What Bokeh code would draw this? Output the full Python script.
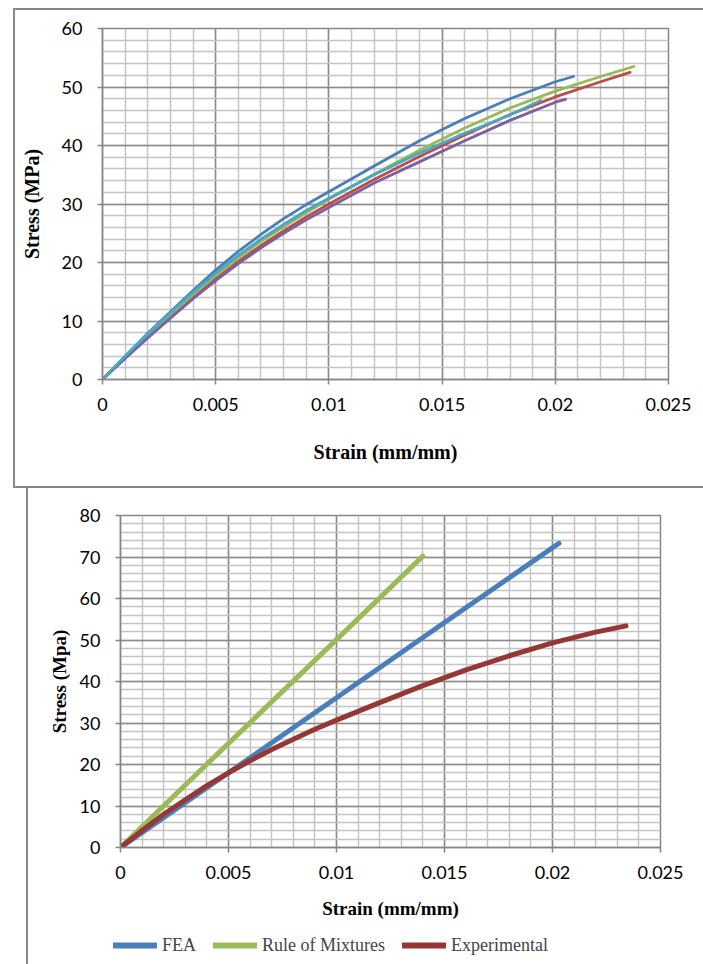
from bokeh.plotting import figure
from bokeh.models import (SingleIntervalTicker, NumeralTickFormatter, Legend, Range1d)
from bokeh.embed import file_html
from bokeh.resources import INLINE

# ---------------- data: top chart (five specimens) ----------------
grid_a = [0, 0.001, 0.002, 0.003, 0.004, 0.005, 0.006, 0.007, 0.008, 0.009, 0.010,
          0.012, 0.014, 0.016, 0.018, 0.020]

s1_strain = grid_a + [0.0208]
s1_stress = [0, 4.0, 7.9, 11.6, 15.2, 18.7, 21.9, 24.8, 27.5, 29.9, 32.1,
             36.5, 40.8, 44.6, 48.0, 50.9, 51.8]

s2_strain = grid_a + [0.022, 0.0233]
s2_stress = [0, 3.7, 7.3, 10.8, 14.1, 17.2, 20.2, 22.9, 25.4, 27.8, 30.0,
             34.2, 38.1, 41.8, 45.3, 48.3, 50.9, 52.5]

s3_strain = grid_a + [0.022, 0.02347]
s3_stress = [0, 3.9, 7.6, 11.1, 14.5, 17.8, 20.8, 23.6, 26.1, 28.5, 30.8,
             35.1, 39.2, 43.0, 46.4, 49.3, 51.8, 53.5]

s4_strain = grid_a + [0.02045]
s4_stress = [0, 3.6, 7.1, 10.5, 13.8, 16.9, 19.8, 22.5, 25.0, 27.3, 29.4,
             33.6, 37.2, 40.8, 44.3, 47.4, 47.9]

s5_strain = grid_a[:-1] + [0.01935]
s5_stress = [0, 4.0, 7.8, 11.4, 14.9, 18.2, 21.2, 24.0, 26.5, 28.9, 31.0,
             35.0, 38.7, 42.1, 45.2, 47.7]

top_colors = ["#4A7EBB", "#BE4B48", "#98B954", "#7D60A0", "#46AAC5"]

# ---------------- data: bottom chart ----------------
fea_strain = [0, 0.005, 0.01, 0.015, 0.0203]
fea_stress = [0, 18.0, 36.1, 54.2, 73.3]

rom_strain = [0, 0.005, 0.01, 0.014]
rom_stress = [0, 25.1, 50.1, 70.2]

exp_strain = [0, 0.001, 0.002, 0.003, 0.004, 0.005, 0.006, 0.007, 0.008, 0.009, 0.010,
              0.012, 0.014, 0.016, 0.018, 0.020, 0.022, 0.0234]
exp_stress = [0, 4.1, 8.0, 11.5, 14.9, 18.0, 20.9, 23.6, 26.1, 28.5, 30.7,
              34.9, 39.0, 42.8, 46.2, 49.3, 51.9, 53.4]

legend_labels = ["FEA", "Rule of Mixtures", "Experimental"]
bottom_colors = ["#4A7EBB", "#9BBB59", "#953735"]

TICK_FONT = "Lato"
LABEL_FONT = "Liberation Serif"
MAJOR_GRID = "#8A8A8A"
MINOR_GRID = "#C4C4C4"
AXIS_COL = "#868686"
BOX = "#888888"


def style(p, ylabel, xstand, ystand, xlab_stand, ylab_stand, xlab_size, ylab_size, yint):
    p.xaxis.ticker = SingleIntervalTicker(interval=0.005, num_minor_ticks=5)
    p.yaxis.ticker = SingleIntervalTicker(interval=yint, num_minor_ticks=5)
    p.xaxis.formatter = NumeralTickFormatter(format="0.[000]")
    p.xgrid.ticker = p.xaxis.ticker
    p.ygrid.ticker = p.yaxis.ticker
    for g in (p.xgrid, p.ygrid):
        g.grid_line_color = MAJOR_GRID
        g.grid_line_width = 1.5
        g.minor_grid_line_color = MINOR_GRID
        g.minor_grid_line_width = 1.5
    for ax in (p.xaxis, p.yaxis):
        ax.axis_line_color = AXIS_COL
        ax.axis_line_width = 1.5
        ax.major_tick_line_color = AXIS_COL
        ax.major_tick_line_width = 1.5
        ax.major_tick_out = 5
        ax.major_tick_in = 0
        ax.minor_tick_line_color = None
        ax.major_label_text_font = TICK_FONT
        ax.major_label_text_font_size = "18px"
        ax.major_label_text_color = "#000000"
        ax.axis_label_text_font = LABEL_FONT
        ax.axis_label_text_font_style = "bold"
        ax.axis_label_text_color = "#000000"
    p.xaxis.axis_label = "Strain (mm/mm)"
    p.yaxis.axis_label = ylabel
    p.xaxis.major_label_standoff = xstand
    p.yaxis.major_label_standoff = ystand
    p.xaxis.axis_label_standoff = xlab_stand
    p.yaxis.axis_label_standoff = ylab_stand
    p.xaxis.axis_label_text_font_size = xlab_size
    p.yaxis.axis_label_text_font_size = ylab_size
    p.outline_line_color = AXIS_COL
    p.outline_line_width = 1.5
    p.background_fill_color = "white"
    p.border_fill_alpha = 0


# ---------------- top figure (boxed via inset shadows) ----------------
top_box = (f"inset 13px 0 0 0 white, inset 0 8px 0 0 white, "
           f"inset 15px 0 0 0 {BOX}, inset 0 10px 0 0 {BOX}, inset 0 -2px 0 0 {BOX}")
p1 = figure(width=703, height=488, x_range=Range1d(0, 0.025), y_range=Range1d(0, 60),
            output_backend="svg", toolbar_location=None,
            min_border_left=102, min_border_right=35, min_border_top=28, min_border_bottom=109,
            styles={"box-shadow": top_box, "background-color": "white"})
style(p1, "Stress (MPa)", 13, 15, 27, 16, "20px", "20px", 10)

series_top = [(s1_strain, s1_stress), (s2_strain, s2_stress), (s3_strain, s3_stress),
              (s4_strain, s4_stress), (s5_strain, s5_stress)]
for (xs, ys), c in zip(series_top, top_colors):
    p1.line(xs, ys, line_color=c, line_width=2.8, line_join="round", line_cap="round")

# ---------------- bottom figure ----------------
bottom_box = f"inset 26px 0 0 0 white, inset 28px 0 0 0 {BOX}"
p2 = figure(width=703, height=442, x_range=Range1d(0, 0.025), y_range=Range1d(0, 80),
            output_backend="svg", toolbar_location=None,
            min_border_left=120, min_border_right=43, min_border_top=27, min_border_bottom=83,
            styles={"box-shadow": bottom_box, "background-color": "white"})
style(p2, "Stress (Mpa)", 13, 15, 16, 7, "19px", "19px", 10)

bottom_series = [(fea_strain, fea_stress), (rom_strain, rom_stress), (exp_strain, exp_stress)]
for (xs, ys), c in zip(bottom_series, bottom_colors):
    p2.line(xs, ys, line_color=c, line_width=5, line_join="round", line_cap="round")

# ---------------- legend strip (continues the bottom box) ----------------
p3 = figure(width=703, height=34, x_range=Range1d(1, 2), y_range=Range1d(1, 2),
            output_backend="svg", toolbar_location=None,
            x_axis_type=None, y_axis_type=None,
            min_border_left=0, min_border_right=0, min_border_top=0, min_border_bottom=0,
            styles={"box-shadow": bottom_box, "background-color": "white"})
p3.xgrid.visible = False
p3.ygrid.visible = False
p3.outline_line_color = None
p3.background_fill_alpha = 0
p3.border_fill_alpha = 0
legend_renderers = []
for (xs, ys), c in zip(bottom_series, bottom_colors):
    r = p3.line(xs, ys, line_color=c, line_width=6, line_cap="round")
    legend_renderers.append(r)

legend = Legend(items=[(lab, [r]) for lab, r in zip(legend_labels, legend_renderers)],
                orientation="horizontal", location=(113, 8),
                label_text_font=LABEL_FONT, label_text_font_size="18px",
                glyph_width=44, glyph_height=22, label_height=22, label_standoff=5, spacing=17,
                padding=0, margin=0, border_line_color=None, background_fill_alpha=0)
p3.add_layout(legend, "center")

open("out.html", "w").write(file_html([p1, p2, p3], INLINE))
